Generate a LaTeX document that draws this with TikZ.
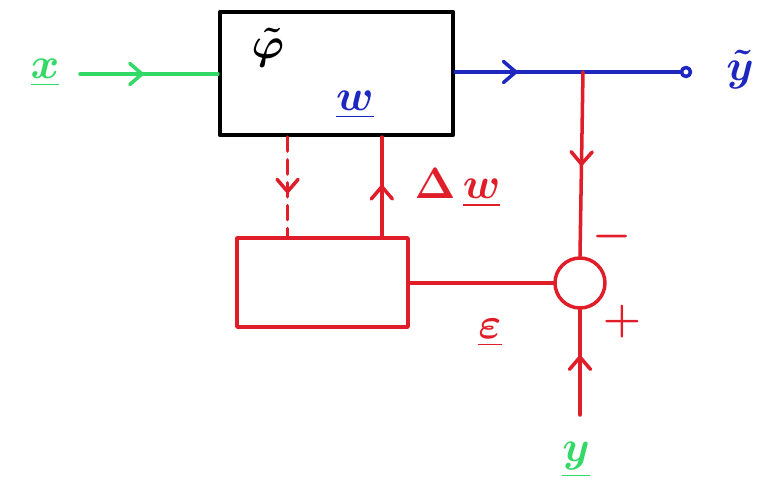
\documentclass[tikz,border=0pt]{standalone}
\usepackage{amsmath,amssymb,bm}
\usetikzlibrary{arrows.meta,decorations.markings,calc}
\definecolor{greencol}{HTML}{33D966}
\definecolor{bluecol}{HTML}{1E28C0}
\definecolor{redcol}{HTML}{E01E2A}

\tikzset{
  midarrow/.style={postaction={decorate}, decoration={markings,
      mark=at position #1 with {\draw[solid, line width=2pt]
        (-7pt,6pt) -- (0pt,0pt) -- (-7pt,-6pt);}}},
  midarrow/.default=0.5,
  wire/.style={line width=2pt},
  lbl/.style={font=\fontsize{24}{28}\selectfont, inner sep=1pt},
}

\begin{document}
\begin{tikzpicture}[
    line cap=round,
    line join=round,
  ]
  \useasboundingbox (0,0) rectangle (15.14,9.96);

  % Blocks
  \node[draw=black, line width=2.4pt, minimum width=4.66cm, minimum height=2.46cm]
    (phi) at (6.73,8.49) {};
  \node[draw=redcol, line width=2pt, minimum width=3.42cm, minimum height=1.78cm]
    (upd) at (6.45,4.31) {};
  \node[draw=redcol, line width=2pt, circle, minimum size=1.0cm, inner sep=0pt]
    (sum) at (11.6,4.30) {};

  % Terminals
  \coordinate (xin) at (1.6,8.48);
  \coordinate (jn) at (11.66,8.52);
  \node[draw=bluecol, line width=2pt, circle, minimum size=0.18cm, inner sep=0pt]
    (yout) at (13.72,8.52) {};
  \coordinate (yin) at (11.6,1.66);

  % Points on the update block
  \path (upd.north west) -- (upd.north east)
    coordinate[pos=0.30] (dtop)
    coordinate[pos=0.84] (utop);

  % Forward path
  \draw[greencol, wire, midarrow=0.45] (xin) -- (xin -| phi.west);
  \draw[bluecol, wire, midarrow=0.27] (jn -| phi.east) -- (yout.west);

  % Error path
  \draw[redcol, wire, midarrow=0.5] (jn) -- (sum.north);
  \draw[redcol, wire, midarrow=0.55] (yin) -- (sum.south);
  \draw[redcol, wire] (sum.west) -- (sum.west -| upd.east);

  % Weight update
  \draw[redcol, wire, dash pattern=on 8pt off 5pt, midarrow=0.55]
    (phi.south -| dtop) -- (dtop);
  \draw[redcol, wire, midarrow=0.5] (utop) -- (phi.south -| utop);

  % Labels
  \node[lbl, font=\fontsize{30}{34}\selectfont] (phit) at (5.36,9.0) {$\bm{\tilde{\varphi}}$};
  \node[lbl, bluecol] (wlbl) at (7.1,7.86) {$\underline{\bm{w}}$};
  \node[lbl, greencol] (xlbl) at (0.9,8.5) {$\underline{\bm{x}}$};
  \node[lbl, bluecol] (ytl) at (14.8,8.56) {$\bm{\tilde{y}}$};
  \node[lbl, greencol] (ylbl) at (11.52,0.76) {$\underline{\bm{y}}$};
  \node[lbl, redcol] (eps) at (9.8,3.3) {$\underline{\bm{\varepsilon}}$};
  \node[lbl, redcol] (dw) at (9.15,6.2) {$\bm{\Delta}\,\underline{\bm{w}}$};
  \node[lbl, redcol] (minus) at (12.24,5.22) {$\bm{-}$};
  \node[lbl, redcol] (plus) at (12.44,3.52) {$\bm{+}$};

\end{tikzpicture}
\end{document}
